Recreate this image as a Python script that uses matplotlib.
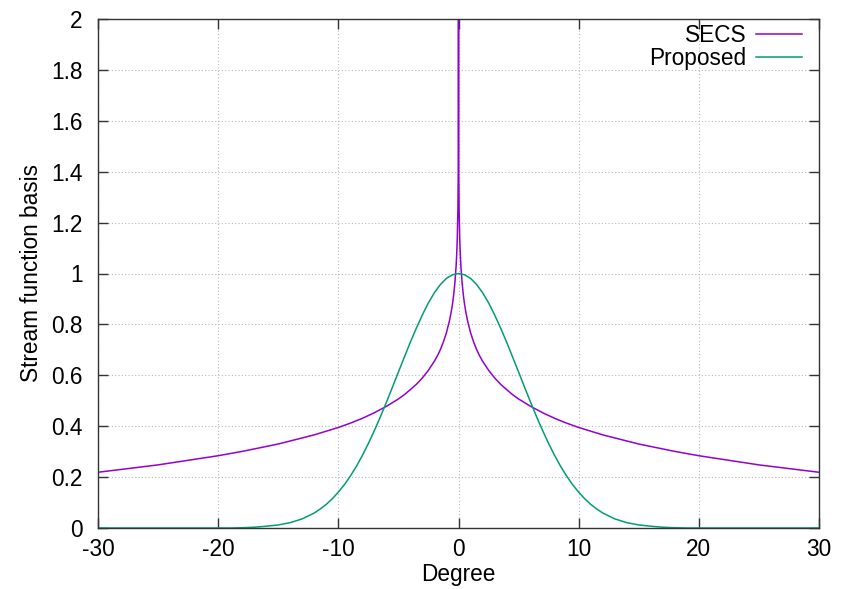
import matplotlib.pyplot as plt
import numpy as np

plt.rcParams['font.family'] = ['Liberation Sans', 'DejaVu Sans']
plt.rcParams['font.size'] = 16.3
plt.rcParams['axes.unicode_minus'] = False

# SECS stream function basis (clipped at the top of the y range)
secs_deg = [-30, -25, -20, -18, -15, -12, -10, -9, -8, -7, -6, -5, -4.5, -4, -3.5, -3, -2.5,
            -2, -1.75, -1.5, -1.25, -1, -0.75, -0.6, -0.5, -0.4, -0.3, -0.2, -0.15, -0.1,
            -0.05, -0.02, -0.01, 0,
            0.01, 0.02, 0.05, 0.1, 0.15, 0.2, 0.3, 0.4, 0.5, 0.6, 0.75, 1, 1.25, 1.5, 1.75,
            2, 2.5, 3, 3.5, 4, 4.5, 5, 6, 7, 8, 9, 10, 12, 15, 18, 20, 25, 30]
secs_val = [0.219, 0.248, 0.284, 0.301, 0.330, 0.366, 0.395, 0.412, 0.431, 0.453, 0.478,
            0.507, 0.524, 0.544, 0.565, 0.590, 0.620, 0.656, 0.677, 0.702, 0.732, 0.768,
            0.815, 0.851, 0.880, 0.917, 0.963, 1.029, 1.075, 1.141, 1.253, 1.402, 1.514,
            2.0,
            1.514, 1.402, 1.253, 1.141, 1.075, 1.029, 0.963, 0.917, 0.880, 0.851, 0.815,
            0.768, 0.732, 0.702, 0.677, 0.656, 0.620, 0.590, 0.565, 0.544, 0.524, 0.507,
            0.478, 0.453, 0.431, 0.412, 0.395, 0.366, 0.330, 0.301, 0.284, 0.248, 0.219]

# proposed basis
prop_deg = [-30, -25, -20, -19, -18, -17, -16, -15, -14, -13, -12, -11.5, -11, -10.5, -10,
            -9.5, -9, -8.5, -8, -7.5, -7, -6.5, -6, -5.5, -5, -4.5, -4, -3.5, -3, -2.5, -2,
            -1.5, -1, -0.5, 0,
            0.5, 1, 1.5, 2, 2.5, 3, 3.5, 4, 4.5, 5, 5.5, 6, 6.5, 7, 7.5, 8, 8.5, 9, 9.5,
            10, 10.5, 11, 11.5, 12, 13, 14, 15, 16, 17, 18, 19, 20, 25, 30]
prop_val = [0.0, 0.0, 0.0, 0.0, 0.001, 0.003, 0.007, 0.012, 0.021, 0.036, 0.059, 0.075,
            0.093, 0.115, 0.141, 0.170, 0.204, 0.242, 0.285, 0.332, 0.383, 0.437, 0.494,
            0.553, 0.613, 0.672, 0.731, 0.786, 0.838, 0.885, 0.925, 0.957, 0.981, 0.995,
            1.0,
            0.995, 0.981, 0.957, 0.925, 0.885, 0.838, 0.786, 0.731, 0.672, 0.613, 0.553,
            0.494, 0.437, 0.383, 0.332, 0.285, 0.242, 0.204, 0.170, 0.141, 0.115, 0.093,
            0.075, 0.059, 0.036, 0.021, 0.012, 0.007, 0.003, 0.001, 0.0, 0.0, 0.0, 0.0]

fig = plt.figure(figsize=(8.5, 5.89), dpi=100)
ax = fig.add_axes([98 / 850, 1 - 528 / 589, 721 / 850, 509 / 589])

ax.plot(secs_deg, secs_val, color='#9400d3', lw=1.1, label='SECS')
ax.plot(prop_deg, prop_val, color='#009e73', lw=1.1, label='Proposed')

ax.set_xlim(-30, 30)
ax.set_ylim(0, 2)
ax.set_xticks(np.arange(-30, 31, 10))
ax.set_yticks(np.arange(0, 2.01, 0.2))
ax.set_yticklabels(['0', '0.2', '0.4', '0.6', '0.8', '1', '1.2', '1.4', '1.6', '1.8', '2'])

ax.grid(True, color='#b8b8b8', linestyle=(0, (1, 2)), lw=0.8)
ax.tick_params(direction='in', length=7, width=1, top=True, right=True, color='#333333')
ax.tick_params(axis='x', pad=7)
ax.tick_params(axis='y', pad=11)
for sp in ax.spines.values():
    sp.set_color('#333333')
    sp.set_linewidth(1.0)

ax.set_xlabel('Degree', labelpad=2)
ax.set_ylabel('Stream function basis', labelpad=6)

ax.legend(loc='upper right', bbox_to_anchor=(800 / 850 + 0.002, 1 - 24 / 589),
          bbox_transform=fig.transFigure, frameon=False, markerfirst=False,
          handlelength=2.0, handletextpad=0.45, labelspacing=0.0, borderpad=0,
          borderaxespad=0)

fig.savefig('out.png', dpi=100)
